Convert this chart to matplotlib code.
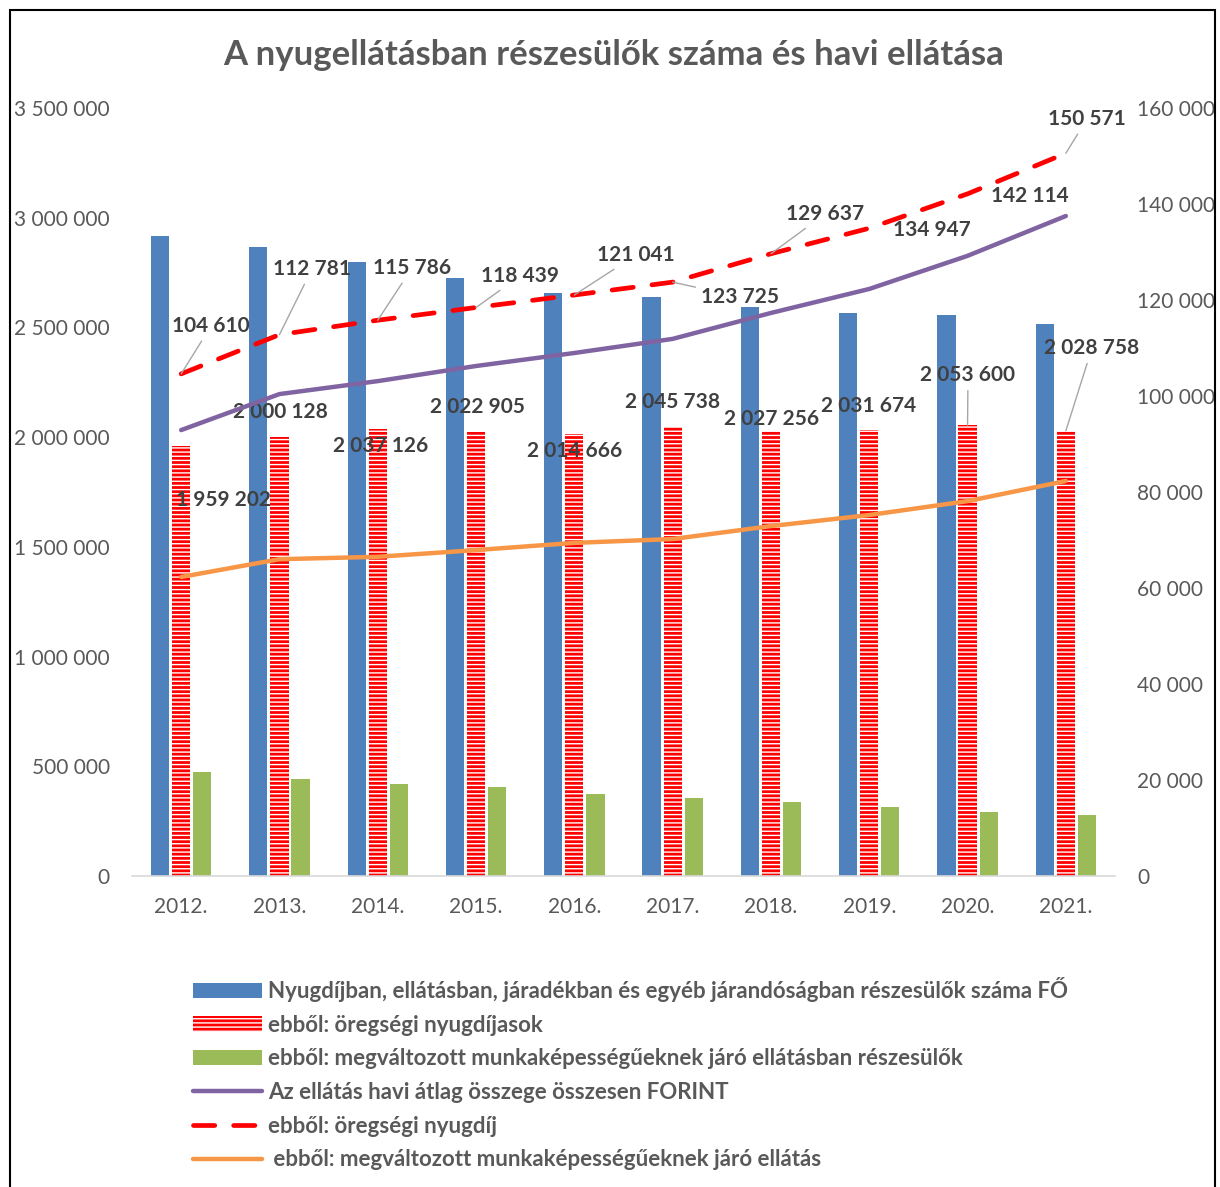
import matplotlib
matplotlib.use("Agg")
from matplotlib import pyplot as plt
from matplotlib.lines import Line2D
from matplotlib.patches import Rectangle
import numpy as np

plt.rcParams['font.family'] = ['Lato', 'DejaVu Sans']
plt.rcParams['hatch.linewidth'] = 1.0

years = ["2012.", "2013.", "2014.", "2015.", "2016.", "2017.", "2018.", "2019.", "2020.", "2021."]

osszes_fo = [2917000, 2867000, 2798000, 2725000, 2657000, 2639000, 2593000, 2566000, 2557000, 2516000]
oregsegi_fo = [1959202, 2000128, 2037126, 2022905, 2014666, 2045738, 2027256, 2031674, 2053600, 2028758]
megvaltozott_fo = [474000, 442000, 419000, 406000, 374000, 356000, 337000, 315000, 292000, 278000]

atlag_ft = [92900, 100400, 103100, 106250, 108960, 111900, 117300, 122300, 129200, 137500]
oregsegi_ft = [104610, 112781, 115786, 118439, 121041, 123725, 129637, 134947, 142114, 150571]
megvaltozott_ft = [62300, 66000, 66500, 67900, 69400, 70200, 72900, 75200, 78100, 82300]

legend_labels = [
    "Nyugdíjban, ellátásban, járadékban és egyéb járandóságban részesülők száma FŐ",
    "ebből: öregségi nyugdíjasok",
    "ebből: megváltozott munkaképességűeknek járó ellátásban részesülők",
    "Az ellátás havi átlag összege összesen FORINT",
    "ebből: öregségi nyugdíj",
    " ebből: megváltozott munkaképességűeknek járó ellátás",
]

# label positions (image pixels, centre of text) and whether a leader line is drawn
line_lab_pos = [(211, 326), (312, 269), (412, 268), (520, 276), (636, 255),
                (740, 297), (825, 214), (932, 230), (1030, 196), (1087, 119)]
line_lab_leader = [True, True, True, True, True, True, True, False, False, True]
bar_lab_pos = [(223, 500), (280, 412), (381, 446), (477, 407), (575, 451),
               (673, 402), (772, 419), (869, 406), (968, 375), (1092, 348)]
bar_lab_leader = [False] * 8 + [True, True]

BLUE = "#4F81BD"
GREEN = "#9BBB59"
PURPLE = "#8064A2"
ORANGE = "#F79646"
RED = "#FF0000"
TXT = "#595959"
LAB = "#404040"

W, H = 1220, 1187
fig = plt.figure(figsize=(W / 100, H / 100), dpi=100)
ax = fig.add_axes([132 / W, 1 - 876 / H, (1115 - 132) / W, (876 - 108) / H])
ax2 = ax.twinx()

x = np.arange(len(years))
bw = 0.185
off = 0.215
ax.bar(x - off, osszes_fo, bw, color=BLUE, zorder=2)
ax.bar(x, oregsegi_fo, bw, facecolor=RED, edgecolor="white", hatch="----", linewidth=0, zorder=2)
ax.bar(x + off, megvaltozott_fo, bw, color=GREEN, zorder=2)

ax2.plot(x, atlag_ft, color=PURPLE, lw=3.2, solid_capstyle="round", zorder=3)
ax2.plot(x, oregsegi_ft, color=RED, lw=3.4, dashes=(4.5, 4), dash_capstyle="round", zorder=3)
ax2.plot(x, megvaltozott_ft, color=ORANGE, lw=3.2, solid_capstyle="round", zorder=3)

ax.set_xlim(-0.5, len(years) - 0.5)
ax.set_ylim(0, 3500000)
ax2.set_ylim(0, 160000)
ax.set_yticks(np.arange(0, 3500001, 500000))
ax2.set_yticks(np.arange(0, 160001, 20000))


def fmt(v):
    return f"{int(v):,}".replace(",", " ")


ax.set_yticklabels([fmt(v) for v in ax.get_yticks()])
ax2.set_yticklabels([fmt(v) for v in ax2.get_yticks()])
ax.set_xticks(x)
ax.set_xticklabels(years)

for a in (ax, ax2):
    for s in ("top", "left", "right"):
        a.spines[s].set_visible(False)
    a.spines["bottom"].set_color("#D9D9D9")
    a.spines["bottom"].set_linewidth(1.2)
ax2.spines["bottom"].set_visible(False)
ax.tick_params(axis="y", length=0, pad=16, labelsize=15, labelcolor=TXT)
ax2.tick_params(axis="y", length=0, pad=16, labelsize=15, labelcolor=TXT)
ax.tick_params(axis="x", length=0, pad=15, labelsize=15, labelcolor=TXT)

lead = dict(arrowstyle="-", color="#A6A6A6", lw=1.0, shrinkA=2, shrinkB=0)
for i, v in enumerate(oregsegi_ft):
    px, py = line_lab_pos[i]
    ax2.annotate(fmt(v), xy=(x[i], v), xytext=(px, H - py), textcoords="figure pixels",
                 ha="center", va="center", fontsize=15, fontweight="bold", color=LAB,
                 arrowprops=lead if line_lab_leader[i] else None, zorder=5)
for i, v in enumerate(oregsegi_fo):
    px, py = bar_lab_pos[i]
    ax.annotate(fmt(v), xy=(x[i], v), xytext=(px, H - py), textcoords="figure pixels",
                ha="center", va="center", fontsize=15, fontweight="bold", color=LAB,
                arrowprops=lead if bar_lab_leader[i] else None, zorder=5,
                annotation_clip=False)

fig.text(614 / W, 1 - 55 / H, "A nyugellátásban részesülők száma és havi ellátása",
         ha="center", va="center", fontsize=25, fontweight="bold", color=TXT)

handles = [
    Rectangle((0, 0), 1, 1, facecolor=BLUE),
    Rectangle((0, 0), 1, 1, facecolor=RED, edgecolor="white", hatch="----", linewidth=0),
    Rectangle((0, 0), 1, 1, facecolor=GREEN),
    Line2D([], [], color=PURPLE, lw=3.2, solid_capstyle="round"),
    Line2D([], [], color=RED, lw=3.4, dashes=(4.5, 4), dash_capstyle="round"),
    Line2D([], [], color=ORANGE, lw=3.2, solid_capstyle="round"),
]
leg = fig.legend(handles, legend_labels, loc="upper left", bbox_to_anchor=(182 / W, 1 - 966 / H),
                 frameon=False, fontsize=16, handlelength=3.1, handleheight=0.7,
                 handletextpad=0.28, labelspacing=0.57, borderpad=0)
for t in leg.get_texts():
    t.set_color(TXT)
    t.set_fontweight("bold")

fig.patches.append(Rectangle((10 / W, -0.01), (1215 - 10) / W, 1 - 10 / H + 0.01, transform=fig.transFigure,
                             fill=False, edgecolor="black", lw=1.5))

fig.savefig("out.png", dpi=100, facecolor="white")
